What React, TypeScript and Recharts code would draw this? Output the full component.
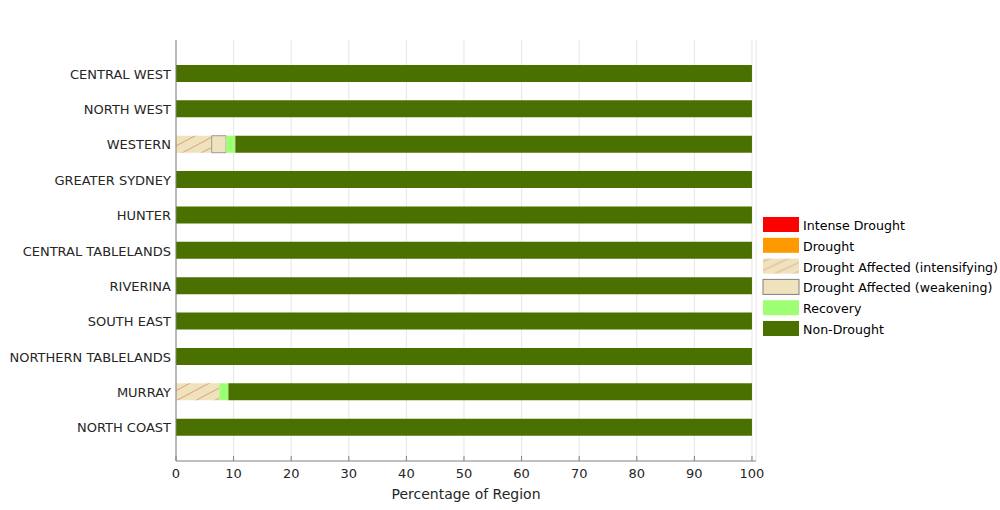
import { BarChart, Bar, XAxis, YAxis, CartesianGrid } from "recharts";

const regions = [
  "CENTRAL WEST",
  "NORTH WEST",
  "WESTERN",
  "GREATER SYDNEY",
  "HUNTER",
  "CENTRAL TABLELANDS",
  "RIVERINA",
  "SOUTH EAST",
  "NORTHERN TABLELANDS",
  "MURRAY",
  "NORTH COAST",
];

const intense = [0, 0, 0, 0, 0, 0, 0, 0, 0, 0, 0];
const drought = [0, 0, 0, 0, 0, 0, 0, 0, 0, 0, 0];
const intensifying = [0, 0, 6.2, 0, 0, 0, 0, 0, 0, 7.5, 0];
const weakening = [0, 0, 2.5, 0, 0, 0, 0, 0, 0, 0, 0];
const recovery = [0, 0, 1.6, 0, 0, 0, 0, 0, 0, 1.6, 0];
const nonDrought = [100, 100, 89.7, 100, 100, 100, 100, 100, 100, 90.9, 100];

const xTicks = [0, 10, 20, 30, 40, 50, 60, 70, 80, 90, 100];

const data = regions.map((region, i) => ({
  region,
  intense: intense[i],
  drought: drought[i],
  intensifying: intensifying[i],
  weakening: weakening[i],
  recovery: recovery[i],
  nonDrought: nonDrought[i],
}));

const FONT = "DejaVu Sans, sans-serif";
const BEIGE = "#EFE3BD";
const HATCH = "#E2A283";

const series = [
  { key: "intense", name: "Intense Drought", fill: "#FF0000", stroke: "none" },
  { key: "drought", name: "Drought", fill: "#FF9900", stroke: "none" },
  { key: "intensifying", name: "Drought Affected (intensifying)", fill: "url(#hatch)", stroke: "none" },
  { key: "weakening", name: "Drought Affected (weakening)", fill: BEIGE, stroke: "#999999" },
  { key: "recovery", name: "Recovery", fill: "#9EFF75", stroke: "none" },
  { key: "nonDrought", name: "Non-Drought", fill: "#4A7000", stroke: "none" },
];

const XTick = (props: any) => {
  const { x, y, payload } = props;
  return (
    <g>
      <line x1={x} x2={x} y1={y} y2={y - 5} stroke="#808080" />
      <text x={x} y={y + 17} textAnchor="middle" fill="#262626" fontSize={13} fontFamily={FONT}>
        {payload.value}
      </text>
    </g>
  );
};

const YTick = (props: any) => {
  const { x, y, payload } = props;
  return (
    <text x={x} y={y} dy={5} textAnchor="end" fill="#262626" fontSize={13} fontFamily={FONT}>
      {payload.value}
    </text>
  );
};

const LegendBox = () => (
  <svg width={238} height={130} style={{ position: "absolute", left: 762, top: 216 }}>
    <defs>
      <pattern id="hatchLegend" patternUnits="userSpaceOnUse" width="8" height="8" patternTransform="rotate(-25)">
        <rect width="8" height="8" fill={BEIGE} />
        <line x1="0" y1="4" x2="8" y2="4" stroke={HATCH} strokeWidth="0.8" />
      </pattern>
    </defs>
    {series.map((s, i) => (
      <g key={s.key} transform={`translate(0, ${i * 20.8})`}>
        <rect
          x={1}
          y={1}
          width={36}
          height={15}
          fill={s.key === "intensifying" ? "url(#hatchLegend)" : s.fill}
          stroke={s.key === "weakening" ? "#808080" : "none"}
        />
        <text x={41} y={14} fontSize={12.6} fontFamily={FONT} fill="#000">
          {s.name}
        </text>
      </g>
    ))}
  </svg>
);

export default function App() {
  return (
    <div style={{ position: "absolute", left: 0, top: 0, width: 1000, height: 510, background: "#fff" }}>
      <BarChart
        width={1000}
        height={510}
        data={data}
        layout="vertical"
        margin={{ top: 40, right: 244, bottom: 0, left: 0 }}
        barSize={17}
      >
        <defs>
          <pattern id="hatch" patternUnits="userSpaceOnUse" width="9" height="9" patternTransform="rotate(-28)">
            <rect width="9" height="9" fill={BEIGE} />
            <line x1="0" y1="4.5" x2="9" y2="4.5" stroke={HATCH} strokeWidth="1" />
          </pattern>
        </defs>
        <CartesianGrid horizontal={false} stroke="#E6E6E6" />
        <XAxis
          type="number"
          domain={[0, 100.7]}
          ticks={xTicks}
          allowDataOverflow
          height={49}
          axisLine={{ stroke: "#808080" }}
          tickLine={false}
          tickSize={0}
          tickMargin={0}
          tick={<XTick />}
          label={{
            value: "Percentage of Region",
            position: "insideBottom",
            offset: 11,
            fill: "#262626",
            fontSize: 14,
            fontFamily: FONT,
          }}
        />
        <YAxis
          type="category"
          dataKey="region"
          width={176}
          padding={{ top: 16, bottom: 16 }}
          axisLine={{ stroke: "#808080" }}
          tickLine={false}
          tickSize={0}
          tickMargin={5}
          tick={<YTick />}
        />
        {series.map((s) => (
          <Bar
            key={s.key}
            dataKey={s.key}
            name={s.name}
            stackId="a"
            fill={s.fill}
            stroke={s.stroke}
            strokeWidth={1}
            isAnimationActive={false}
          />
        ))}
      </BarChart>
      <LegendBox />
    </div>
  );
}
